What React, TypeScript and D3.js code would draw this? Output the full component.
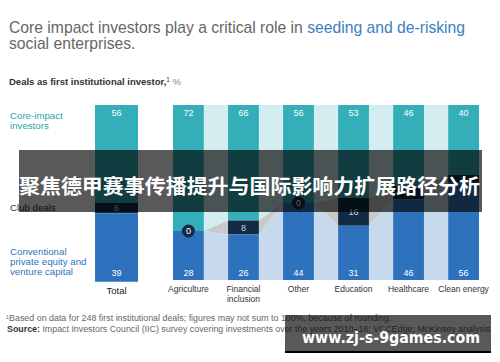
import React, { useEffect, useRef } from 'react'
import { select, scaleBand, scaleLinear, stack } from 'd3'

const categories = ['Total', 'Agriculture', 'Financial inclusion', 'Other', 'Education', 'Healthcare', 'Clean energy']
const coreImpact = [56, 72, 66, 56, 53, 46, 40]
const clubDeals = [6, 0, 8, 0, 16, 8, 4]
const conventional = [39, 28, 26, 44, 31, 46, 56]
const seriesLabels = ['Core-impact investors', 'Club deals', 'Conventional private equity and venture capital']

const keys = ['core', 'club', 'conv']
const solid: Record<string, string> = { core: '#34aeb8', club: '#112c42', conv: '#2e72bd' }
const light: Record<string, string> = { core: '#d3edf0', club: '#c9c9c9', conv: '#c7d9ec' }
const font = '"Liberation Sans", Arial, sans-serif'

function Chart() {
  const ref = useRef<SVGSVGElement>(null)

  useEffect(() => {
    const svg = select(ref.current)
    svg.selectAll('*').remove()

    const rows = categories.map((c, i) => ({ cat: c, core: coreImpact[i], club: clubDeals[i], conv: conventional[i] }))
    const stacked = stack<any>().keys(keys)(rows)

    const xTotal = scaleBand().domain([categories[0]]).range([95, 138])
    const xSector = scaleBand().domain(categories.slice(1)).range([173, 479]).paddingInner(0.44)
    const xLeft = (c: string) => (c === 'Total' ? xTotal(c)! : xSector(c)!)
    const bw = (c: string) => (c === 'Total' ? xTotal.bandwidth() : xSector.bandwidth())
    const y = scaleLinear().domain([0, 100]).range([105, 280])

    // connectors between sector bars
    const conn = svg.append('g')
    stacked.forEach(s => {
      for (let i = 1; i < categories.length - 1; i++) {
        const a = s[i], b = s[i + 1]
        const x1 = xLeft(categories[i]) + bw(categories[i])
        const x2 = xLeft(categories[i + 1])
        conn.append('polygon')
          .attr('points', `${x1},${y(a[0])} ${x2},${y(b[0])} ${x2},${y(b[1])} ${x1},${y(a[1])}`)
          .attr('fill', light[s.key])
      }
    })

    // bars
    stacked.forEach(s => {
      svg.append('g').selectAll('rect')
        .data(s)
        .join('rect')
        .attr('x', (d: any) => xLeft(d.data.cat))
        .attr('y', (d: any) => y(d[0]))
        .attr('width', (d: any) => bw(d.data.cat))
        .attr('height', (d: any) => y(d[1]) - y(d[0]))
        .attr('fill', solid[s.key])
    })

    const lbl = svg.append('g').attr('font-family', font).attr('font-size', 9).attr('text-anchor', 'middle')
    rows.forEach((r, i) => {
      const cx = xLeft(r.cat) + bw(r.cat) / 2
      lbl.append('text').attr('x', cx).attr('y', 116).attr('fill', '#fff').text(r.core)
      lbl.append('text').attr('x', cx).attr('y', Math.min(y(stacked[2][i][1]), 280) - 4).attr('fill', '#fff').text(r.conv)
      const c0 = y(stacked[1][i][0]), c1 = y(stacked[1][i][1])
      if (r.club === 0) {
        lbl.append('circle').attr('cx', cx).attr('cy', c0).attr('r', 6.5).attr('fill', solid.club)
        lbl.append('text').attr('x', cx).attr('y', c0 + 3.2).attr('fill', '#fff').text(r.club)
      } else {
        lbl.append('text').attr('x', cx).attr('y', (c0 + c1) / 2 + 3.2).attr('fill', '#cfd6dc').text(r.club)
      }
      const words = r.cat === 'Financial inclusion' ? ['Financial', 'inclusion'] : [r.cat]
      words.forEach((w, k) => {
        lbl.append('text').attr('x', cx).attr('y', (r.cat === 'Total' ? 293.5 : 291.5) + k * 10)
          .attr('fill', r.cat === 'Total' ? '#222' : '#333')
          .attr('font-size', r.cat === 'Total' ? 9.5 : 8.5)
          .text(w)
      })
    })

    // series labels on the left
    const side = svg.append('g').attr('font-family', font).attr('font-size', 9.7)
    const sideLines = [
      { lines: ['Core-impact', 'investors'], y0: 119, color: '#2aa3b0' },
      { lines: ['Club deals'], y0: 211, color: '#1d3247' },
      { lines: ['Conventional', 'private equity and', 'venture capital'], y0: 254.5, color: '#2f74bd' },
    ]
    sideLines.forEach((s, j) => {
      const t = side.append('text').attr('fill', s.color).attr('aria-label', seriesLabels[j])
      s.lines.forEach((l, k) => t.append('tspan').attr('x', 10).attr('y', s.y0 + k * 10.3).text(l))
    })
  }, [])

  return (
    <svg ref={ref} width={500} height={362} style={{ display: 'block', position: 'absolute', left: 0, top: 0, background: '#fff' }}>
    </svg>
  )
}

export default function App() {
  return (
    <div style={{ position: 'fixed', left: 0, top: 0, width: 500, height: 362, background: '#fff' }}>
      <Chart />
      <svg width={500} height={362} style={{ position: 'absolute', left: 0, top: 0 }}>
        <text x={9} y={33} fontFamily={font} fontSize={15.7} fill="#666">
          Core impact investors play a critical role in <tspan fill="#3b80c2">seeding and de-risking</tspan>
        </text>
        <text x={9} y={49} fontFamily={font} fontSize={15.7} fill="#666">social enterprises.</text>
        <text x={9} y={85} fontFamily={font} fontSize={9.5} fill="#333" fontWeight="bold">
          Deals as first institutional investor,<tspan fontWeight="normal" fontSize={6.5} dy={-3}>1</tspan><tspan fontWeight="normal" fill="#888" dy={3}> %</tspan>
        </text>
        <text x={6} y={321} fontFamily={font} fontSize={8.9} fill="#666">
          <tspan fontSize={5.5} dy={-2.5}>1</tspan><tspan dy={2.5}>Based on data for 248 first institutional deals; figures may not sum to 100%, because of rounding.</tspan>
        </text>
        <text x={7} y={332} fontFamily={font} fontSize={8.85} fill="#666">
          <tspan fontWeight="bold" fill="#333">Source:</tspan> Impact Investors Council (IIC) survey covering investments over the years 2010–16; VCCEdge; McKinsey analysis
        </text>
        <rect x={19} y={150} width={463} height={62} fill="rgba(0,0,0,0.65)" />
        <text x={19} y={194} fontFamily='"Noto Sans CJK SC", sans-serif' fontWeight="bold" fontSize={20.5} fill="#fff" textLength={461} lengthAdjust="spacingAndGlyphs">
          聚焦德甲赛事传播提升与国际影响力扩展路径分析
        </text>
        <rect x={285} y={315} width={206} height={38} fill="rgba(0,0,0,0.65)" />
        <rect x={285} y={351} width={206} height={2} fill="#000" />
        <text x={302} y={343} fontFamily='"DejaVu Sans", sans-serif' fontWeight="bold" fontSize={15} fill="#fff" textLength={178} lengthAdjust="spacingAndGlyphs">
          www.zj-s-9games.com
        </text>
      </svg>
    </div>
  )
}
